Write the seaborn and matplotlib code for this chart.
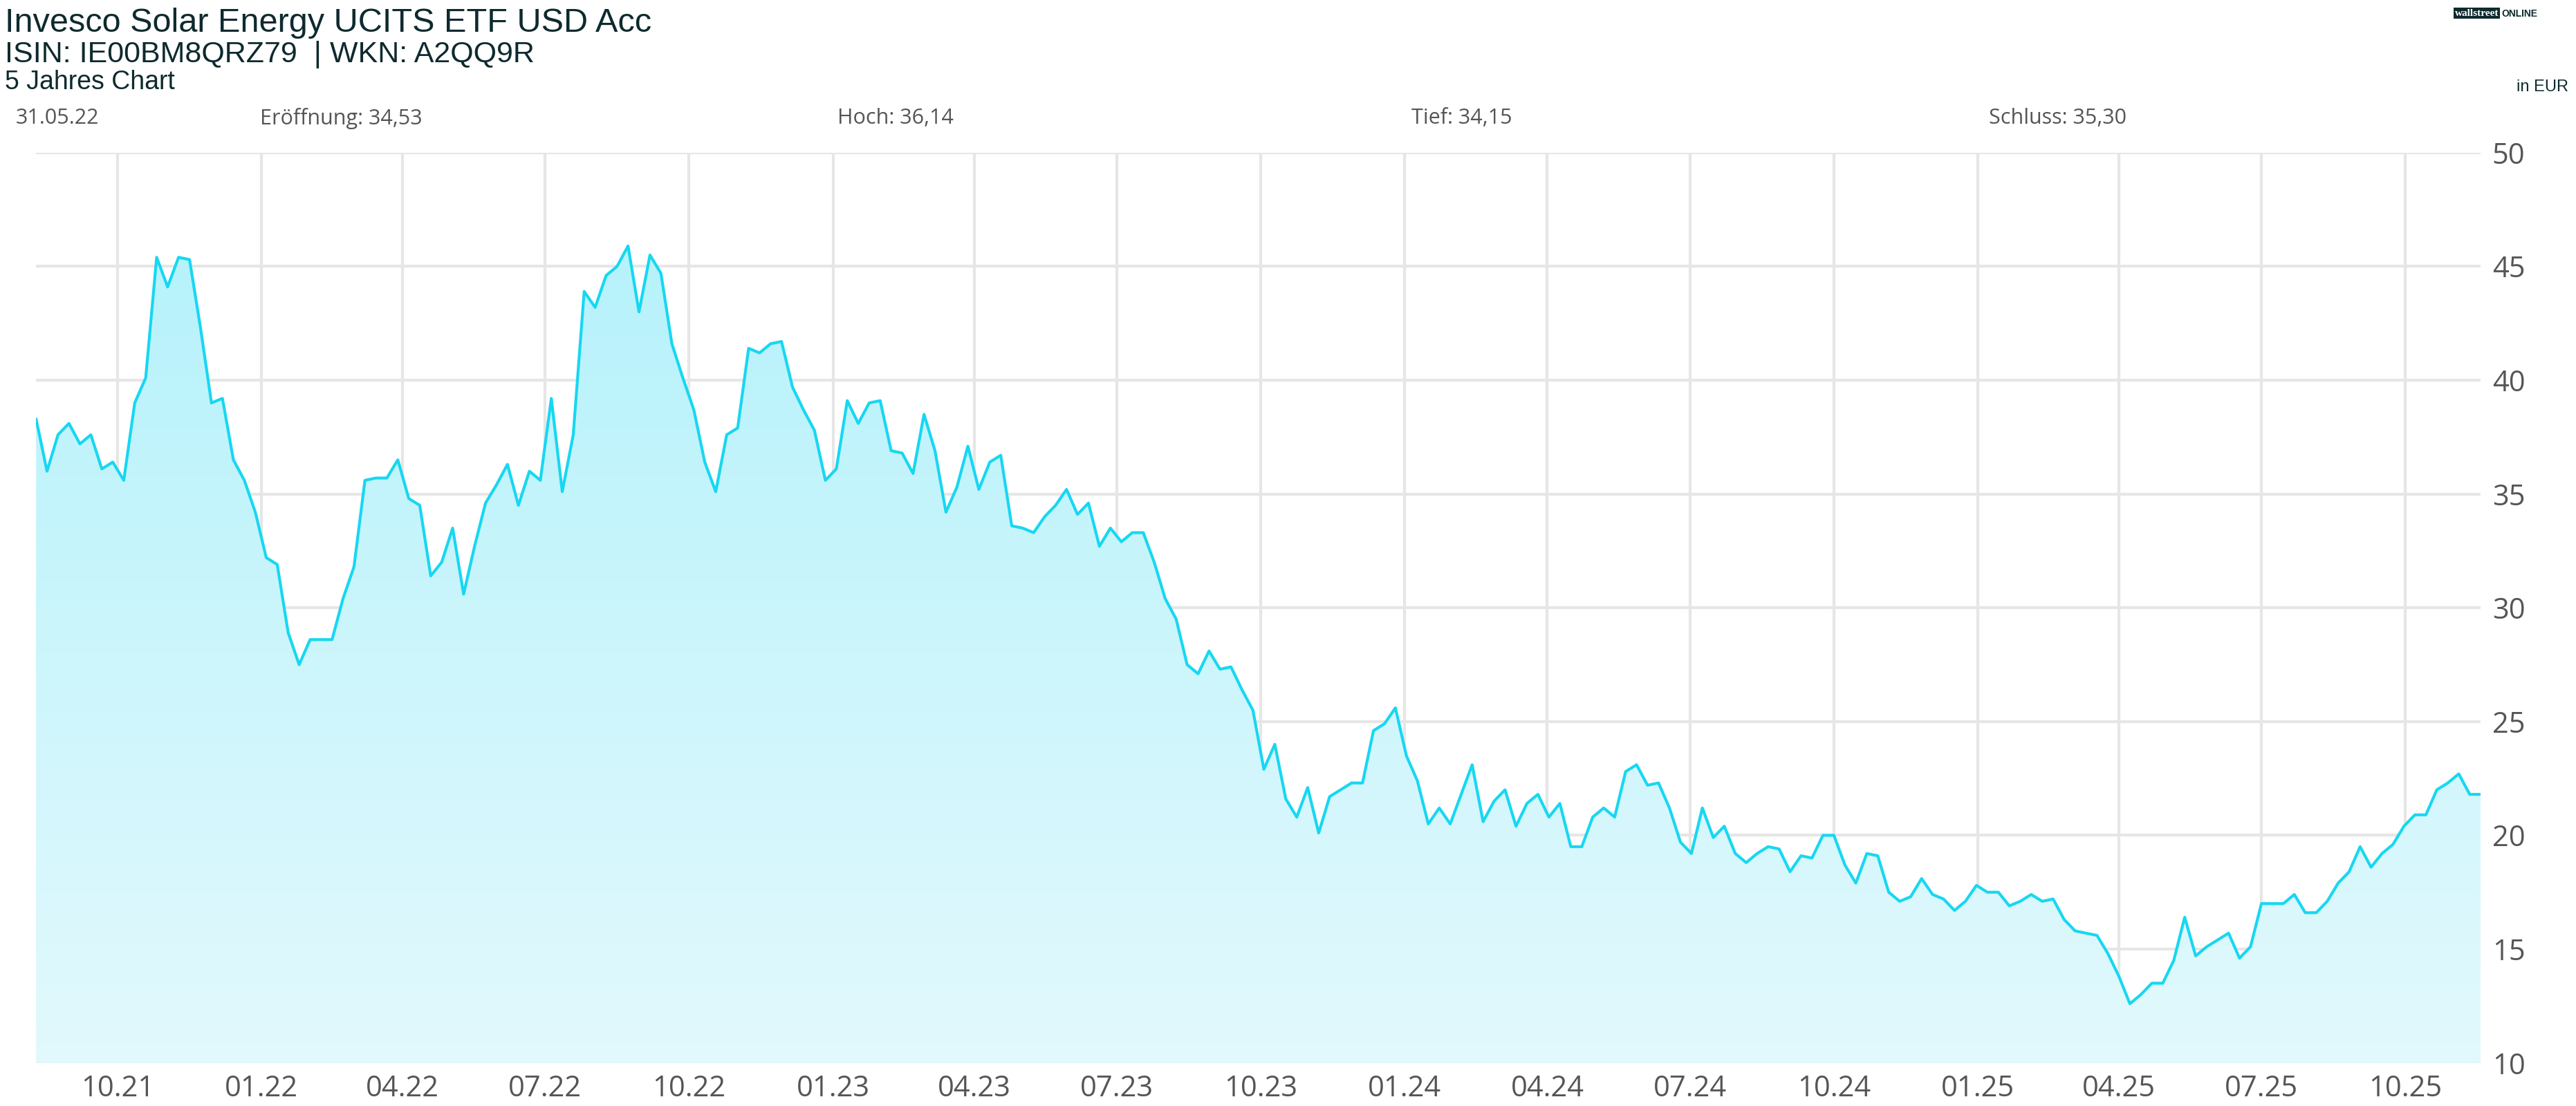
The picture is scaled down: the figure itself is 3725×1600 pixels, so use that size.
import numpy as np
import pandas as pd
import matplotlib.pyplot as plt
import matplotlib.dates as mdates
import seaborn as sns
from matplotlib.patches import Polygon

sns.set_theme(style="white")
plt.rcParams["font.family"] = ["Liberation Sans", "DejaVu Sans"]

# weekly closing prices
prices = [
    38.3, 36.0, 37.6, 38.1, 37.2, 37.6, 36.1, 36.4, 35.6, 39.0, 40.1, 45.4, 44.1, 45.4, 45.3,
    42.3, 39.0, 39.2, 36.5, 35.6, 34.2, 32.2, 31.9, 28.9, 27.5, 28.6, 28.6, 28.6, 30.4, 31.8,
    35.6, 35.7, 35.7, 36.5, 34.8, 34.5, 31.4, 32.0, 33.5, 30.6, 32.7, 34.6, 35.4, 36.3, 34.5,
    36.0, 35.6, 39.2, 35.1, 37.6, 43.9, 43.2, 44.6, 45.0, 45.9, 43.0, 45.5, 44.7, 41.6, 40.1,
    38.7, 36.4, 35.1, 37.6, 37.9, 41.4, 41.2, 41.6, 41.7, 39.7, 38.7, 37.8, 35.6, 36.1, 39.1,
    38.1, 39.0, 39.1, 36.9, 36.8, 35.9, 38.5, 36.9, 34.2, 35.3, 37.1, 35.2, 36.4, 36.7, 33.6,
    33.5, 33.3, 34.0, 34.5, 35.2, 34.1, 34.6, 32.7, 33.5, 32.9, 33.3, 33.3, 32.0, 30.4, 29.5,
    27.5, 27.1, 28.1, 27.3, 27.4, 26.4, 25.5, 22.9, 24.0, 21.6, 20.8, 22.1, 20.1, 21.7, 22.0,
    22.3, 22.3, 24.6, 24.9, 25.6, 23.5, 22.4, 20.5, 21.2, 20.5, 21.8, 23.1, 20.6, 21.5, 22.0,
    20.4, 21.4, 21.8, 20.8, 21.4, 19.5, 19.5, 20.8, 21.2, 20.8, 22.8, 23.1, 22.2, 22.3, 21.2,
    19.7, 19.2, 21.2, 19.9, 20.4, 19.2, 18.8, 19.2, 19.5, 19.4, 18.4, 19.1, 19.0, 20.0, 20.0,
    18.7, 17.9, 19.2, 19.1, 17.5, 17.1, 17.3, 18.1, 17.4, 17.2, 16.7, 17.1, 17.8, 17.5, 17.5,
    16.9, 17.1, 17.4, 17.1, 17.2, 16.3, 15.8, 15.7, 15.6, 14.8, 13.8, 12.6, 13.0, 13.5, 13.5,
    14.5, 16.4, 14.7, 15.1, 15.4, 15.7, 14.6, 15.1, 17.0, 17.0, 17.0, 17.4, 16.6, 16.6, 17.1,
    17.9, 18.4, 19.5, 18.6, 19.2, 19.6, 20.4, 20.9, 20.9, 22.0, 22.3, 22.7, 21.8, 21.8,
]
dates = pd.date_range("2021-08-10", periods=len(prices), freq="7D")
df = pd.DataFrame({"date": dates, "price": prices})

tick_dates = pd.date_range("2021-10-01", "2025-10-01", freq="QS")
tick_labels = [d.strftime("%m.%y") for d in tick_dates]
y_ticks = [10, 15, 20, 25, 30, 35, 40, 45, 50]

line_color = "#17d7f2"

fig = plt.figure(figsize=(37.25, 16), dpi=100)
ax = fig.add_axes([0.014, 0.039, 0.949, 0.823])

sns.lineplot(data=df, x="date", y="price", ax=ax, color=line_color, linewidth=3)

# gradient fill under the line
x0, x1 = mdates.date2num(dates[0]), mdates.date2num(dates[-1])
grad = np.linspace(0, 1, 256).reshape(-1, 1)
cmap = sns.blend_palette(["#e2f9fd", "#b6f2fb"], as_cmap=True)
img = ax.imshow(grad, aspect="auto", cmap=cmap, origin="lower",
                extent=[x0, x1, 10, 46], zorder=1)
xs = mdates.date2num(dates)
verts = np.column_stack([np.r_[xs[0], xs, xs[-1]], np.r_[10, prices, 10]])
poly = Polygon(verts, closed=True, facecolor="none", edgecolor="none")
ax.add_patch(poly)
img.set_clip_path(poly)

ax.set_xlim(x0, x1)
ax.set_ylim(10, 50)
ax.set_xticks(mdates.date2num(tick_dates))
ax.set_xticklabels(tick_labels)
ax.set_yticks(y_ticks)
ax.yaxis.tick_right()
ax.tick_params(axis="both", labelsize=30, labelcolor="#555555", length=0, pad=12)
for lbl in ax.get_xticklabels() + ax.get_yticklabels():
    lbl.set_family(["Open Sans", "DejaVu Sans"])
ax.grid(True, color="#e6e6e6", linewidth=3)
ax.set_axisbelow(True)
for s in ax.spines.values():
    s.set_visible(False)
ax.set_xlabel("")
ax.set_ylabel("")

# header
fig.text(0.002, 0.993, "Invesco Solar Energy UCITS ETF USD Acc", fontsize=35,
         color="#0e2a2e", va="top", ha="left")
fig.text(0.002, 0.963, "ISIN: IE00BM8QRZ79  | WKN: A2QQ9R", fontsize=31,
         color="#0e2a2e", va="top", ha="left")
fig.text(0.002, 0.937, "5 Jahres Chart", fontsize=27, color="#0e2a2e", va="top", ha="left")
fig.text(0.997, 0.928, "in EUR", fontsize=17, color="#0e2a2e", va="top", ha="right")
fig.text(0.970, 0.992, "wallstreet", fontsize=11, color="white", va="top", ha="right",
         family="Liberation Serif", weight="bold",
         bbox=dict(facecolor="#0e2a2e", edgecolor="none", pad=1))
fig.text(0.971, 0.992, "ONLINE", fontsize=10, color="#0e2a2e", va="top", ha="left",
         weight="bold")

stats = ["31.05.22", "Eröffnung: 34,53", "Hoch: 36,14", "Tief: 34,15", "Schluss: 35,30"]
stat_x = [0.006, 0.101, 0.325, 0.548, 0.772]
for x, s in zip(stat_x, stats):
    fig.text(x, 0.893, s, fontsize=22, color="#555555", va="center", ha="left",
             family=["Open Sans", "DejaVu Sans"])

fig.savefig("out.png", dpi=100, facecolor="white")
